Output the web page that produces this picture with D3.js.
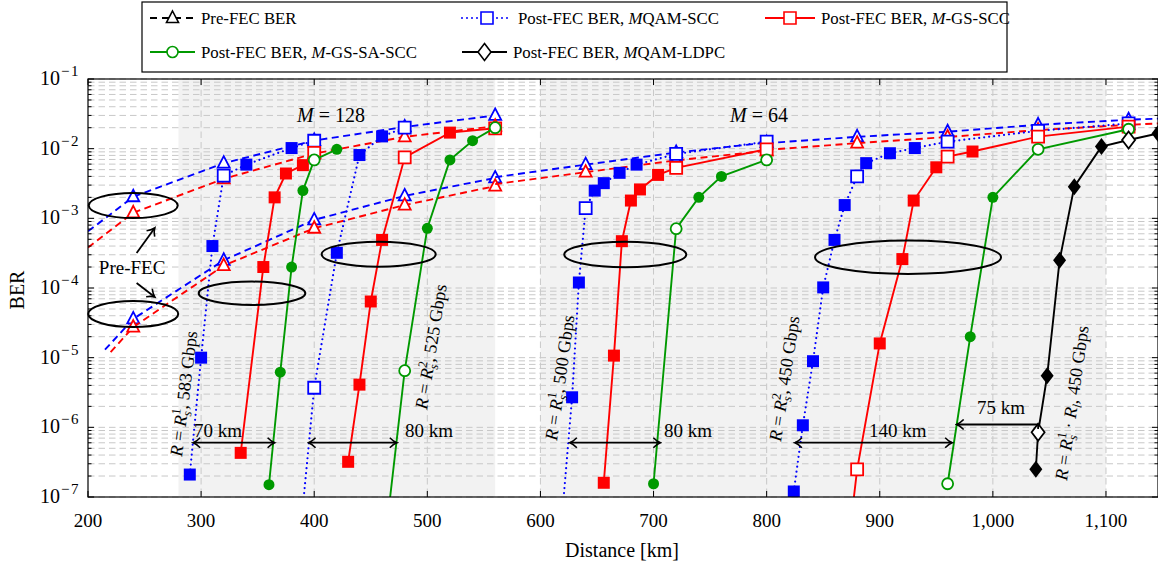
<!DOCTYPE html>
<html><head><meta charset="utf-8">
<script src="https://cdn.jsdelivr.net/npm/d3@7"></script>
<style>
body{margin:0;background:#fff}
text{font-family:"Liberation Serif","DejaVu Serif",serif;fill:#000}
</style>
</head><body>
<svg id="c" width="1158" height="565"></svg>
<script>
// ---------------- DATA ----------------
const xTicks = [200,300,400,500,600,700,800,900,1000,1100];
const xTickLabels = ["200","300","400","500","600","700","800","900","1,000","1,100"];
const yTickExps = [-1,-2,-3,-4,-5,-6,-7];
const shadedRanges = [[280,560],[600,1100]];

// Pre-FEC BER (dashed) [km, BER, marker(1)/no marker(0)]
const preFec128R1Blue = [[200,6.5e-4,0],[240,2.04e-3,1],[320,6.2e-3,1],[400,1.31e-2,1],[480,2.05e-2,1],[560,3.0e-2,1]];
const preFec128R1Red  = [[200,3.8e-4,0],[240,1.2e-3,1],[320,3.7e-3,1],[400,8.5e-3,1],[480,1.48e-2,1],[560,2.1e-2,1]];
const preFec128R2Blue = [[215,1.3e-5,0],[240,3.6e-5,1],[320,2.5e-4,1],[400,9.5e-4,1],[480,2.1e-3,1],[560,3.8e-3,1]];
const preFec128R2Red  = [[220,1.2e-5,0],[240,2.75e-5,1],[320,2.1e-4,1],[400,7.2e-4,1],[480,1.55e-3,1],[560,2.9e-3,1]];
const preFec64R1Blue  = [[560,3.9e-3,0],[640,5.9e-3,1],[720,8.8e-3,1],[800,1.22e-2,1]];
const preFec64R1Red   = [[560,3.1e-3,0],[640,4.6e-3,1],[720,6.8e-3,1],[800,9.3e-3,1]];
const preFec64R2Blue  = [[800,1.2e-2,0],[880,1.48e-2,1],[960,1.75e-2,1],[1040,2.2e-2,1],[1120,2.6e-2,1],[1146,2.7e-2,0]];
const preFec64R2Red   = [[800,9.6e-3,0],[880,1.2e-2,1],[960,1.47e-2,1],[1040,1.85e-2,1],[1120,2.2e-2,1],[1146,2.3e-2,0]];

// Post-FEC BER [km, BER, open(1)/filled(0)]
const mqamScc128R1 = [[290,2.1e-7,0],[300,1.0e-5,0],[310,4e-4,0],[320,4.1e-3,1],[340,5.9e-3,0],[380,1.02e-2,0],[400,1.3e-2,1]];
const mqamScc128R2 = [[389,5e-8,0],[400,3.7e-6,1],[420,3.2e-4,0],[440,8.1e-3,0],[460,1.5e-2,0],[480,2.0e-2,1]];
const mqamScc64R1  = [[619,5e-8,0],[628,2.7e-6,0],[634,1.2e-4,0],[640,1.4e-3,1],[648,2.5e-3,0],[656,3.2e-3,0],[670,4.5e-3,0],[685,5.9e-3,0],[720,8.4e-3,1],[800,1.26e-2,1]];
const mqamScc64R2  = [[824,1.2e-7,0],[832,1.07e-6,0],[841,8.9e-6,0],[850,1.02e-4,0],[860,4.9e-4,0],[869,1.55e-3,0],[880,4.0e-3,1],[888,6.2e-3,0],[909,8.6e-3,0],[931,1.02e-2,0],[960,1.26e-2,1],[1040,1.8e-2,1],[1120,2.3e-2,1]];

const gsScc128R1 = [[335,4.3e-7,0],[355,2.0e-4,0],[365,2.0e-3,0],[375,4.4e-3,0],[390,5.8e-3,0],[400,8.7e-3,1]];
const gsScc128R2 = [[430,3.2e-7,0],[440,4.1e-6,0],[450,6.4e-5,0],[460,4.9e-4,0],[480,7.5e-3,1],[520,1.7e-2,0],[560,1.96e-2,1]];
const gsScc64R1  = [[656,1.6e-7,0],[665,1.07e-5,0],[672,4.7e-4,0],[680,1.8e-3,0],[688,2.6e-3,0],[704,4.2e-3,0],[720,5.3e-3,1],[800,9.8e-3,1]];
const gsScc64R2  = [[875,5e-8,0],[880,2.5e-7,1],[900,1.6e-5,0],[920,2.6e-4,0],[930,1.8e-3,0],[950,5.4e-3,0],[960,7.7e-3,1],[982,9.1e-3,0],[1040,1.49e-2,1],[1120,2.07e-2,1]];

const gsSaScc128R1 = [[360,1.5e-7,0],[370,6.2e-6,0],[380,2.0e-4,0],[390,2.5e-3,0],[400,6.9e-3,1],[420,9.8e-3,0]];
const gsSaScc128R2 = [[465,5e-8,0],[480,6.5e-6,1],[500,7.2e-4,0],[520,6.9e-3,0],[540,1.3e-2,0],[560,2.0e-2,1]];
const gsSaScc64R1  = [[700,1.55e-7,0],[720,7.1e-4,1],[740,2.0e-3,0],[760,4.0e-3,0],[800,6.9e-3,1]];
const gsSaScc64R2  = [[960,1.55e-7,1],[980,2.0e-5,0],[1000,2.0e-3,0],[1040,9.8e-3,1],[1120,1.9e-2,1]];

const mqamLdpc64 = [[1038,2.5e-7,0],[1040,8.5e-7,1],[1048,5.5e-6,0],[1059,2.5e-4,0],[1072,2.85e-3,0],[1096,1.07e-2,0],[1120,1.33e-2,1],[1146,1.65e-2,0]];

const legendLabels = ["Pre-FEC BER","Post-FEC BER, MQAM-SCC","Post-FEC BER, M-GS-SCC","Post-FEC BER, M-GS-SA-SCC","Post-FEC BER, MQAM-LDPC"];

// ---------------- DRAW ----------------
const x = d3.scaleLinear().domain([200,1146]).range([88,1158]);
const y = d3.scaleLog().domain([1e-7,1e-1]).range([497,79]);
const svg = d3.select("#c");
const BLUE="#0000ff", RED="#ff0000", GREEN="#009900", BLACK="#000";
const x0=x.range()[0], x1=x.range()[1], y0=y.range()[0], y1=y.range()[1];

const defs = svg.append("defs");
defs.append("clipPath").attr("id","clip").append("rect")
  .attr("x",x0).attr("y",y1).attr("width",x1-x0).attr("height",y0-y1);

svg.append("g").selectAll("rect").data(shadedRanges).join("rect")
  .attr("x",d=>x(d[0])).attr("width",d=>x(d[1])-x(d[0]))
  .attr("y",y1).attr("height",y0-y1).attr("fill","#f2f2f2");

const grid = svg.append("g").attr("stroke","#c8c8c8").attr("stroke-width",1).attr("stroke-dasharray","6.5,4");
const minorVals=[];
for(let e=-7;e<-1;e++) for(let m=2;m<=9;m++) minorVals.push(m*Math.pow(10,e));
grid.selectAll(".mn").data(minorVals).join("line")
  .attr("x1",x0).attr("x2",x1).attr("y1",d=>y(d)).attr("y2",d=>y(d));
grid.selectAll(".mj").data(yTickExps).join("line")
  .attr("x1",x0).attr("x2",x1).attr("y1",d=>y(Math.pow(10,d))).attr("y2",d=>y(Math.pow(10,d)));
grid.selectAll(".vx").data(xTicks.slice(1)).join("line")
  .attr("x1",d=>x(d)).attr("x2",d=>x(d)).attr("y1",y1).attr("y2",y0);

function mPath(shape){
  if(shape==="square") return "M-6,-6h12v12h-12Z";
  if(shape==="tri") return "M0,-7L6,4.5L-6,4.5Z";
  if(shape==="circle") return "M5.5,0A5.5,5.5 0 1 1 -5.5,0A5.5,5.5 0 1 1 5.5,0Z";
  if(shape==="diamond") return "M0,-8.5L6.5,0L0,8.5L-6.5,0Z";
}
const plot = svg.append("g").attr("clip-path","url(#clip)");
const line = d3.line().x(d=>x(d[0])).y(d=>y(d[1]));

function drawSeries(data,color,dash,shape,isPre,width){
  const g = plot.append("g");
  g.append("path").datum(data).attr("d",line).attr("fill","none")
    .attr("stroke",color).attr("stroke-width",width||1.9)
    .attr("stroke-dasharray",dash||null)
    .attr("stroke-linecap",dash==="0,5"?"round":"butt");
  const pts = isPre ? data.filter(d=>d[2]) : data;
  g.selectAll(".m").data(pts).join("path")
    .attr("transform",d=>`translate(${x(d[0])},${y(d[1])})`)
    .attr("d",mPath(shape))
    .attr("fill",d=>(isPre||d[2])?"#fff":color)
    .attr("stroke",color).attr("stroke-width",d=>(isPre||d[2])?1.8:0);
}
const preDash="7,4.5";
[preFec128R1Blue,preFec128R2Blue,preFec64R1Blue,preFec64R2Blue].forEach(s=>drawSeries(s,BLUE,preDash,"tri",true));
[preFec128R1Red,preFec128R2Red,preFec64R1Red,preFec64R2Red].forEach(s=>drawSeries(s,RED,preDash,"tri",true));

[mqamScc128R1,mqamScc128R2,mqamScc64R1,mqamScc64R2].forEach(s=>drawSeries(s,BLUE,"0,5","square",false,2.2));
[gsScc128R1,gsScc128R2,gsScc64R1,gsScc64R2].forEach(s=>drawSeries(s,RED,null,"square",false));
[gsSaScc128R1,gsSaScc128R2,gsSaScc64R1,gsSaScc64R2].forEach(s=>drawSeries(s,GREEN,null,"circle",false));
drawSeries(mqamLdpc64,BLACK,null,"diamond",false);

// ellipses
const ell = svg.append("g").attr("fill","none").attr("stroke","#000").attr("stroke-width",2);
[[240,205.5,44.5,12.5],[240,314,45,13],[345,293.3,53.3,11.7],[457,254.2,57,12.5],[675,254.5,61,12.8],[925,257.3,93,16.7]]
 .forEach(e=>ell.append("ellipse").attr("cx",x(e[0])).attr("cy",e[1]).attr("rx",e[2]).attr("ry",e[3]));

// arrows
defs.append("marker").attr("id","ah").attr("viewBox","-8 -6 10 12").attr("refX",0).attr("refY",0)
  .attr("markerWidth",10).attr("markerHeight",12).attr("markerUnits","userSpaceOnUse").attr("orient","auto-start-reverse")
  .append("path").attr("d","M-7,-5 Q-3,-1 0,0 Q-3,1 -7,5").attr("fill","none").attr("stroke","#000").attr("stroke-width",1.6);
const arr = svg.append("g").attr("stroke","#000").attr("stroke-width",1.8).attr("fill","none");
function dbl(k1,k2,yy){arr.append("line").attr("x1",x(k1)).attr("x2",x(k2)).attr("y1",yy).attr("y2",yy)
  .attr("marker-start","url(#ah)").attr("marker-end","url(#ah)");}
dbl(293,365,442.7); dbl(395,473,442.7); dbl(626,706,442.7); dbl(825,964,442.7);
arr.append("line").attr("x1",x(968)).attr("x2",x(1040)).attr("y1",424.5).attr("y2",424.5).attr("marker-start","url(#ah)");
arr.append("line").attr("x1",x(1040)).attr("x2",x(1040)).attr("y1",424.5).attr("y2",429);
arr.append("line").attr("x1",x(243)).attr("x2",x(259)).attr("y1",253).attr("y2",228).attr("marker-end","url(#ah)");
arr.append("line").attr("x1",x(243)).attr("x2",x(259)).attr("y1",283).attr("y2",297).attr("marker-end","url(#ah)");

const fs=19;
function txt(px,py,str,opt){
  const t=svg.append("text").attr("x",px).attr("y",py).attr("font-size",(opt&&opt.fs)||fs).text(str);
  if(opt&&opt.anchor) t.attr("text-anchor",opt.anchor);
  return t;
}
txt(x(239),274,"Pre-FEC",{anchor:"middle"});
txt(194,437,"70 km"); txt(405,437,"80 km"); txt(664,437,"80 km"); txt(869,437,"140 km"); txt(977,414,"75 km");

function mLabel(px,py,num){
  const t=svg.append("text").attr("x",px).attr("y",py).attr("font-size",20);
  t.append("tspan").attr("font-style","italic").text("M");
  t.append("tspan").text(" = "+num);
}
mLabel(297,122,"128"); mLabel(730,122,"64");

function rLabel(px,py,ang,sup,extra,rate){
  const t=svg.append("text").attr("transform",`translate(${px},${py}) rotate(${ang})`).attr("font-size",18);
  t.append("tspan").attr("font-style","italic").text("R");
  t.append("tspan").text(" = ");
  t.append("tspan").attr("font-style","italic").text("R");
  t.append("tspan").attr("font-style","italic").attr("font-size",13).attr("dy",4).text("s");
  t.append("tspan").attr("font-size",13).attr("dy",-11).attr("dx",-5).text(sup);
  if(extra){
    t.append("tspan").attr("dy",7).text(" · ");
    t.append("tspan").attr("font-style","italic").text("R");
    t.append("tspan").attr("font-style","italic").attr("font-size",13).attr("dy",4).text("l");
    t.append("tspan").attr("dy",-4).text(", "+rate);
  } else {
    t.append("tspan").attr("dy",7).text(", "+rate);
  }
}
rLabel(182,457,-83,"1",false,"583 Gbps");
rLabel(427,410,-81,"2",false,"525 Gbps");
rLabel(557,441,-82,"1",false,"500 Gbps");
rLabel(781,442,-81.5,"2",false,"450 Gbps");
rLabel(1067,481,-82,"1",true,"450 Gbps");

// axes frame & ticks
const ax = svg.append("g").attr("stroke","#000");
ax.append("rect").attr("x",x0).attr("y",y1).attr("width",x1-x0).attr("height",y0-y1).attr("fill","none").attr("stroke-width",1.2);
xTicks.forEach(v=>{ax.append("line").attr("x1",x(v)).attr("x2",x(v)).attr("y1",y0).attr("y2",y0-6);
  ax.append("line").attr("x1",x(v)).attr("x2",x(v)).attr("y1",y1).attr("y2",y1+6);});
yTickExps.forEach(e=>{const yy=y(Math.pow(10,e));
  ax.append("line").attr("x1",x0).attr("x2",x0+6).attr("y1",yy).attr("y2",yy);
  ax.append("line").attr("x1",x1).attr("x2",x1-6).attr("y1",yy).attr("y2",yy);});
minorVals.forEach(v=>{const yy=y(v);
  ax.append("line").attr("x1",x0).attr("x2",x0+3.5).attr("y1",yy).attr("y2",yy);
  ax.append("line").attr("x1",x1).attr("x2",x1-3.5).attr("y1",yy).attr("y2",yy);});

xTicks.forEach((v,i)=>txt(x(v),527,xTickLabels[i],{anchor:"middle"}));
yTickExps.forEach(e=>{
  const t=svg.append("text").attr("x",80).attr("y",y(Math.pow(10,e))+6).attr("text-anchor","end").attr("font-size",20);
  t.append("tspan").text("10");
  t.append("tspan").attr("font-size",15).attr("dy",-9).attr("dx",1).attr("letter-spacing",1.5).text("\u2212"+(-e));
});
txt(622,557,"Distance [km]",{anchor:"middle",fs:20});
svg.append("text").attr("transform","translate(24,290) rotate(-90)").attr("text-anchor","middle").attr("font-size",20).text("BER");

// legend
const lg = svg.append("g");
lg.append("rect").attr("x",142).attr("y",2).attr("width",865).attr("height",70).attr("fill","#fff").attr("stroke","#000").attr("stroke-width",1.2);
const legItems=[
 {x:150,y:18,color:BLACK,dash:"7,5",shape:"tri",lab:legendLabels[0],w:45},
 {x:462,y:18,color:BLUE,dash:"0,5",shape:"square",lab:legendLabels[1],w:50},
 {x:765,y:18,color:RED,dash:null,shape:"square",lab:legendLabels[2],w:50},
 {x:150,y:52,color:GREEN,dash:null,shape:"circle",lab:legendLabels[3],w:45},
 {x:462,y:52,color:BLACK,dash:null,shape:"diamond",lab:legendLabels[4],w:45}
];
legItems.forEach(it=>{
  lg.append("line").attr("x1",it.x).attr("x2",it.x+it.w).attr("y1",it.y).attr("y2",it.y)
    .attr("stroke",it.color).attr("stroke-width",2).attr("stroke-dasharray",it.dash)
    .attr("stroke-linecap",it.dash==="0,5"?"round":"butt");
  lg.append("path").attr("transform",`translate(${it.x+it.w/2},${it.y})`).attr("d",mPath(it.shape))
    .attr("fill","#fff").attr("stroke",it.color).attr("stroke-width",1.6);
  const t=lg.append("text").attr("x",it.x+it.w+6).attr("y",it.y+6).attr("font-size",16.8);
  const parts=it.lab.split(", ");
  if(parts.length===1){t.text(parts[0]);}
  else{ t.append("tspan").text(parts[0]+", ");
    const rest=parts[1];
    t.append("tspan").attr("font-style","italic").text("M");
    t.append("tspan").text(rest.slice(1)); }
});
</script>
</body></html>
